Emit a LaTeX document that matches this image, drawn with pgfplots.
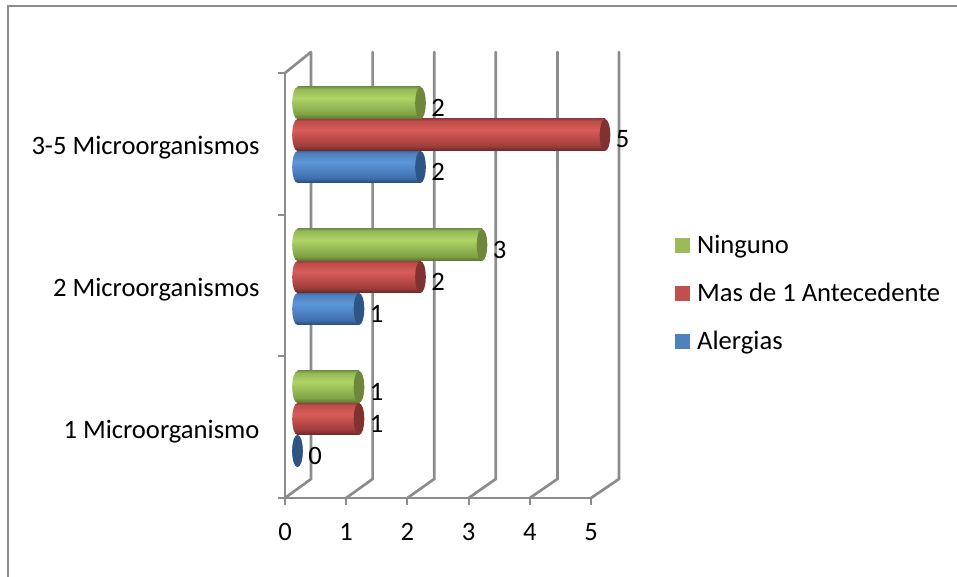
\documentclass[border=0pt]{standalone}
\usepackage{pgfplots}
\pgfplotsset{compat=1.18}
\usepackage{fontspec}
\setmainfont{Carlito}

\definecolor{wallgrey}{HTML}{8C8C8C}
\definecolor{legGreen}{HTML}{9BBB59}
\definecolor{legRed}{HTML}{C0504D}
\definecolor{legBlue}{HTML}{4F81BD}
\definecolor{capgreen}{HTML}{6F873B}
\definecolor{capred}{HTML}{7F3231}
\definecolor{capblue}{HTML}{2F5585}

% Cylinder bodies: dark rims with a highlight a little above the centre
\pgfdeclareverticalshading{cylgreen}{100bp}{
  rgb(0bp)=(0.34,0.45,0.18); rgb(25bp)=(0.34,0.45,0.18); rgb(33bp)=(0.50,0.64,0.27);
  rgb(58bp)=(0.69,0.83,0.40); rgb(72bp)=(0.58,0.72,0.34); rgb(75bp)=(0.48,0.60,0.28); rgb(100bp)=(0.48,0.60,0.28)}
\pgfdeclareverticalshading{cylred}{100bp}{
  rgb(0bp)=(0.40,0.15,0.15); rgb(25bp)=(0.40,0.15,0.15); rgb(33bp)=(0.62,0.24,0.23);
  rgb(58bp)=(0.85,0.36,0.35); rgb(72bp)=(0.74,0.30,0.29); rgb(75bp)=(0.62,0.24,0.24); rgb(100bp)=(0.62,0.24,0.24)}
\pgfdeclareverticalshading{cylblue}{100bp}{
  rgb(0bp)=(0.16,0.29,0.47); rgb(25bp)=(0.16,0.29,0.47); rgb(33bp)=(0.25,0.44,0.68);
  rgb(58bp)=(0.36,0.59,0.85); rgb(72bp)=(0.30,0.50,0.74); rgb(75bp)=(0.24,0.42,0.64); rgb(100bp)=(0.24,0.42,0.64)}

% Rounded cylinder ends, drawn as marks at each bar's start and end
\pgfdeclareplotmark{endgreen}{\path[draw=none, fill=capgreen] (0pt,0pt) ellipse [x radius=5.3pt, y radius=16pt];}
\pgfdeclareplotmark{endred}{\path[draw=none, fill=capred] (0pt,0pt) ellipse [x radius=5.3pt, y radius=16pt];}
\pgfdeclareplotmark{endblue}{\path[draw=none, fill=capblue] (0pt,0pt) ellipse [x radius=5.3pt, y radius=16pt];}
\pgfdeclareplotmark{startgreen}{\path[draw=none, shading=cylgreen] (0pt,0pt) ellipse [x radius=5.3pt, y radius=16pt];}
\pgfdeclareplotmark{startred}{\path[draw=none, shading=cylred] (0pt,0pt) ellipse [x radius=5.3pt, y radius=16pt];}
\pgfdeclareplotmark{startblue}{\path[draw=none, shading=cylblue] (0pt,0pt) ellipse [x radius=5.3pt, y radius=16pt];}

\newcommand{\chartfont}{\fontsize{26.6}{30}\selectfont}

% One cylinder: value, category, offset within the group, colour name
\newcommand{\cylinder}[4]{
  \addplot[forget plot, xbar, bar width=32pt, bar shift=#3, draw=none, shading=cyl#4]
    coordinates {(#1,#2)};
  \addplot[forget plot, only marks, mark=start#4, yshift=#3, mark options={draw=none}]
    coordinates {(0,#2)};
  \addplot[forget plot, datalabel, mark=end#4, yshift=#3, mark options={draw=none}]
    coordinates {(#1,#2)};
}

\begin{document}
\begin{tikzpicture}[x=1pt,y=1pt]
\useasboundingbox (0,0) rectangle (957,577);
% outer frame: only the top and left edges fall inside the page
\draw[wallgrey, line width=2pt] (8,0) -- (8,571) -- (957,571);

% floor, back wall lines, ticks and category labels
\begin{axis}[
  at={(285pt,79pt)}, anchor=origin,
  scale only axis, width=306pt, height=425pt,
  xmin=0, xmax=5, ymin=0, ymax=3,
  clip=false,
  axis x line*=bottom, axis y line*=left,
  axis line style={wallgrey, line width=2.7pt, -},
  xtick={0,1,2,3,4,5},
  ytick={0,1,2,3}, yticklabels={},
  extra y ticks={0.5,1.5,2.5},
  extra y tick labels={1 Microorganismo,2 Microorganismos,3-5 Microorganismos},
  extra y tick style={major tick length=0pt},
  tick style={wallgrey, line width=2pt},
  tick align=outside, major tick length=7pt,
  every tick label/.append style={font=\chartfont, text=black},
  /pgf/number format/assume math mode=true,
  xticklabel style={yshift=-15pt},
  yticklabel style={xshift=-22pt, yshift=-4pt},
]
\pgfplotsinvokeforeach{0,1,2,3,4,5}{
  \draw[wallgrey, line width=2.7pt, line cap=round]
    (axis cs:#1,0) -- ++({26pt+#1*0.4pt},19pt) -- ++(0pt,427pt);
}
\draw[wallgrey, line width=2.7pt] (axis cs:0,3) -- ++(26pt,21pt);
\end{axis}

% the cylinders, drawn from the bottom series of each group upwards
\begin{axis}[
  at={(297.5pt,87pt)}, anchor=origin,
  scale only axis, width=307.5pt, height=426pt,
  xmin=0, xmax=5, ymin=0.5, ymax=3.5,
  clip=false, axis lines=none,
  /pgf/number format/assume math mode=true,
  legend style={
    at={(675pt-297.5pt,577pt-235.5pt-87pt)}, anchor=north west,
    draw=none, fill=none, font=\chartfont, text=black,
    row sep=28pt, inner sep=0pt,
    nodes={inner sep=0pt, anchor=west},
  },
  legend cell align=left,
  legend image code/.code={\fill[#1, draw=none] (0pt,-7.5pt) rectangle (15pt,7.5pt); \path[draw=none] (0pt,0pt) -- (22pt,0pt);},
  datalabel/.style={
    only marks, point meta=x, nodes near coords,
    nodes near coords style={font=\chartfont, text=black, anchor=center, xshift=17.5pt, yshift=-4.5pt},
  },
]
% Alergias
\cylinder{0}{1}{-32pt}{blue}
\cylinder{1}{2}{-32pt}{blue}
\cylinder{2}{3}{-32pt}{blue}
% Mas de 1 Antecedente
\cylinder{1}{1}{0pt}{red}
\cylinder{2}{2}{0pt}{red}
\cylinder{5}{3}{0pt}{red}
% Ninguno
\cylinder{1}{1}{32pt}{green}
\cylinder{3}{2}{32pt}{green}
\cylinder{2}{3}{32pt}{green}

\addlegendimage{legGreen}\addlegendentry{Ninguno}
\addlegendimage{legRed}\addlegendentry{Mas de 1 Antecedente}
\addlegendimage{legBlue}\addlegendentry{Alergias}
\end{axis}
\end{tikzpicture}
\end{document}
